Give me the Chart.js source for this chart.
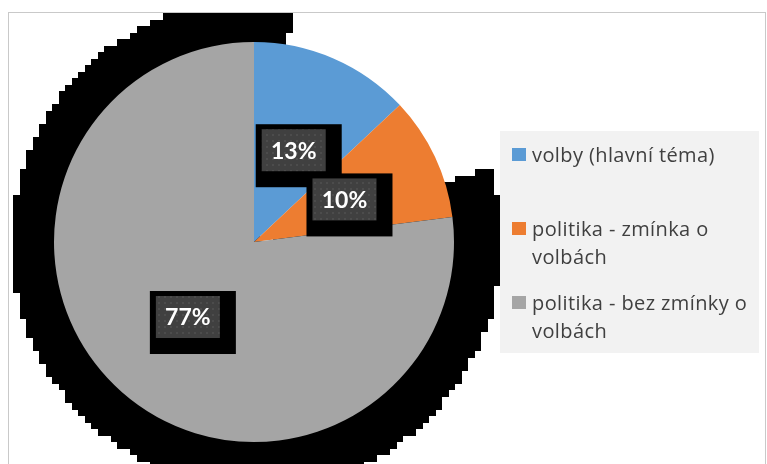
<!DOCTYPE html>
<html>
<head>
<meta charset="utf-8">
<title>Volby v politickém zpravodajství</title>
<script src="https://cdn.jsdelivr.net/npm/chart.js"></script>
<style>
    body {
        margin: 0;
        background: #fff;
        font-family: 'Open Sans', sans-serif;
    }
    #wrap {
        position: relative;
        width: 767px;
        height: 464px;
        overflow: hidden;
    }
    #frame {
        position: absolute;
        left: 8px;
        top: 12px;
        width: 758px;
        height: 480px;
        border: 1px solid #c9c9c9;
        box-sizing: border-box;
    }
    #chartBox {
        position: absolute;
        left: 0;
        top: 0;
        width: 767px;
        height: 464px;
    }
    #legend {
        position: absolute;
        left: 500px;
        top: 131px;
        width: 259px;
        height: 222px;
        background: #f2f2f2;
        box-sizing: border-box;
        padding: 10px 2px 0 12px;
        color: #404040;
        font-size: 20px;
        letter-spacing: 0.4px;
        line-height: 28px;
    }
    .item {
        position: relative;
        height: 74px;
        width: 244px;
        padding-left: 20px;
        box-sizing: border-box;
    }
    .item span {
        position: absolute;
        left: 0;
        top: 7px;
        width: 14px;
        height: 13px;
    }
</style>
</head>
<body>
<div id="wrap">
    <div id="frame"></div>
    <div id="chartBox"><canvas id="pie"></canvas></div>
    <div id="legend"></div>
</div>

<script>
    const categories = ['volby (hlavní téma)', 'politika - zmínka o volbách', 'politika - bez zmínky o volbách'];
    const shares = [13, 10, 77];
    const colors = ['#5b9bd5', '#ed7d31', '#a5a5a5'];

    // legenda vpravo (HTML, kvuli zalamovani textu)
    const legend = document.getElementById('legend');
    categories.forEach((c, i) => {
        const div = document.createElement('div');
        div.className = 'item';
        div.innerHTML = '<span style="background:' + colors[i] + '"></span>' + c;
        legend.appendChild(div);
    });

    // hranaty cerny stin za kolacem
    const pieShadow = {
        id: 'pieShadow',
        beforeDatasetsDraw(chart) {
            const arc = chart.getDatasetMeta(0).data[0];
            const cell = 6.5;
            const w = Math.ceil(chart.width / cell), h = Math.ceil(chart.height / cell);
            const off = document.createElement('canvas');
            off.width = w;
            off.height = h;
            const o = off.getContext('2d');
            const cx = (arc.x + 2) / cell, cy = (arc.y + 1) / cell, r = arc.outerRadius * 1.23 / cell;
            const deg = Math.PI / 180;
            o.beginPath();
            o.moveTo(cx, cy);
            o.arc(cx, cy, r, (72 - 90) * deg, (9 - 90 + 360) * deg);
            o.closePath();
            o.fillStyle = '#000';
            o.fill();
            const img = o.getImageData(0, 0, w, h);
            for (let k = 3; k < img.data.length; k += 4) {
                img.data[k] = img.data[k] >= 128 ? 255 : 0;
            }
            o.putImageData(img, 0, 0);

            const ctx = chart.ctx;
            ctx.save();
            ctx.beginPath();
            ctx.rect(9, 13, chart.width - 11, chart.height);
            ctx.clip();
            ctx.imageSmoothingEnabled = false;
            ctx.drawImage(off, 0, 0, w * cell, h * cell);
            ctx.restore();
        }
    };

    // popisky procent v tmavych boxech
    function makePattern(ctx) {
        const p = document.createElement('canvas');
        p.width = 6;
        p.height = 6;
        const pc = p.getContext('2d');
        pc.fillStyle = '#404040';
        pc.fillRect(0, 0, 6, 6);
        pc.fillStyle = '#4c4c4c';
        pc.fillRect(2, 2, 2, 2);
        return ctx.createPattern(p, 'repeat');
    }

    const pieLabels = {
        id: 'pieLabels',
        afterDatasetsDraw(chart) {
            const ctx = chart.ctx;
            const total = shares.reduce((a, b) => a + b, 0);
            const boxW = 64, boxH = 42;
            const pos = chart.getDatasetMeta(0).data.map(a => a.tooltipPosition());
            ctx.save();
            ctx.fillStyle = '#000';
            pos.forEach(p => ctx.fillRect(p.x - boxW / 2 - 6, p.y - boxH / 2 - 5, boxW + 22, boxH + 21));
            const pat = makePattern(ctx);
            pos.forEach((p, i) => {
                ctx.fillStyle = pat;
                ctx.fillRect(p.x - boxW / 2, p.y - boxH / 2, boxW, boxH);
                ctx.fillStyle = '#fff';
                ctx.font = 'bold 23px Lato';
                ctx.textAlign = 'center';
                ctx.textBaseline = 'middle';
                ctx.fillText(Math.round(shares[i] / total * 100) + '%', p.x, p.y + 1);
            });
            ctx.restore();
        }
    };

    new Chart(document.getElementById('pie'), {
        type: 'pie',
        plugins: [pieShadow, pieLabels],
        data: {
            labels: categories,
            datasets: [{
                data: shares,
                backgroundColor: colors,
                borderWidth: 0
            }]
        },
        options: {
            responsive: true,
            maintainAspectRatio: false,
            animation: false,
            layout: {
                padding: { left: 54, top: 42, right: 313, bottom: 22 }
            },
            plugins: {
                legend: { display: false },
                tooltip: { enabled: false }
            }
        }
    });
</script>
</body>
</html>
